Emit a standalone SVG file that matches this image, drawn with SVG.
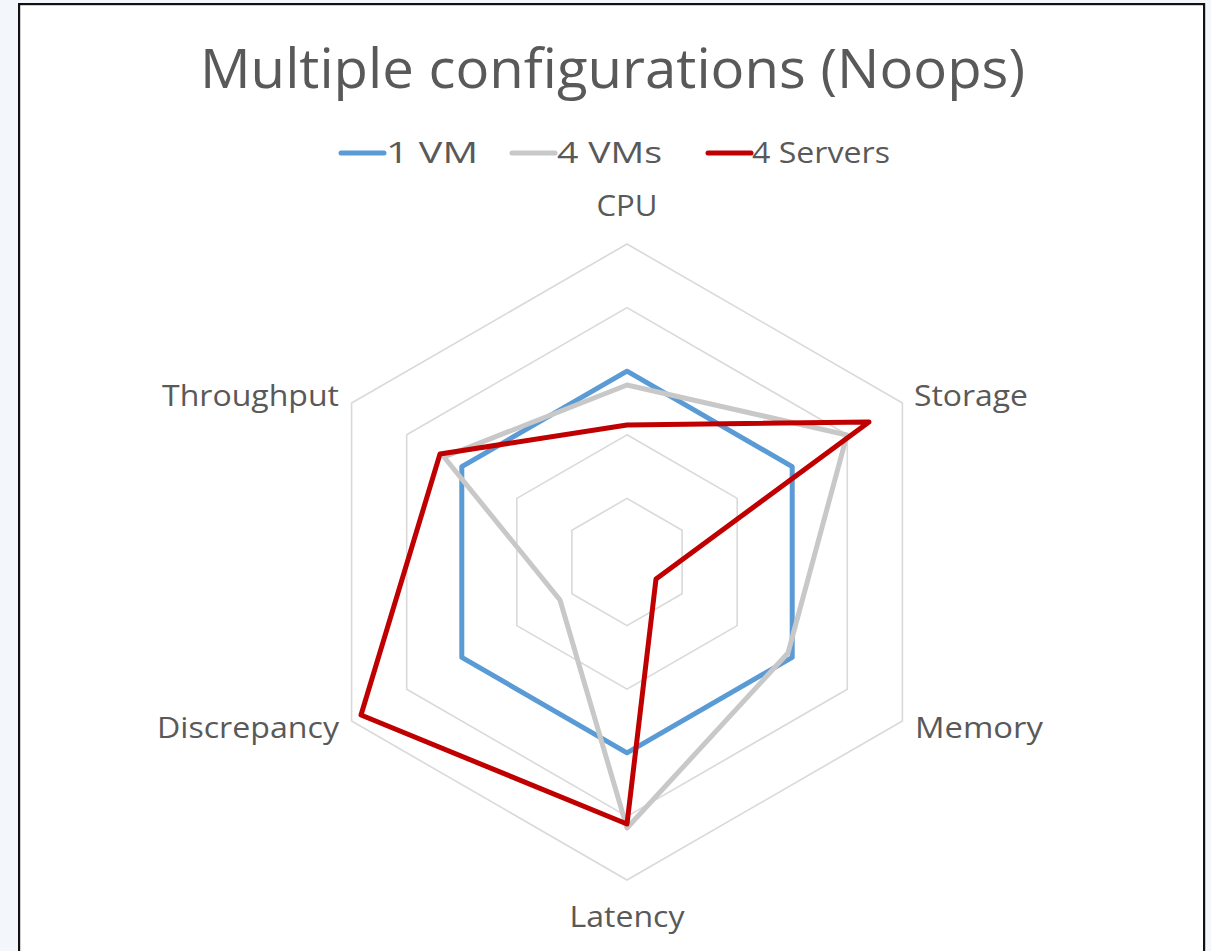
<svg xmlns="http://www.w3.org/2000/svg" width="1211" height="951" viewBox="0 0 1211 951">
<style>
.bg{fill:#f3f7fb}
.frame{fill:#ffffff;stroke:#111111;stroke-width:2.2}
.grid{fill:none;stroke:#d9d9d9;stroke-width:1.6}
.series{fill:none;stroke-width:5;stroke-linejoin:round;stroke-linecap:round}
.s1{stroke:#5b9bd5}
.s2{stroke:#c8c8c8}
.s3{stroke:#c00000}
.t{font-family:"Open Sans","Liberation Sans",sans-serif;fill:#595959}
.title{font-size:55px}
.lbl{font-size:29px}
</style>
<rect class="bg" x="0" y="0" width="1211" height="951"/>
<rect class="frame" x="19.1" y="4.1" width="1185" height="980"/>
<text class="t title" x="612.5" y="88" text-anchor="middle" textLength="825" lengthAdjust="spacingAndGlyphs">Multiple configurations (Noops)</text>
<g id="legend">
<line x1="341" y1="153" x2="384" y2="153" class="series s1"/>
<text class="t lbl" x="386" y="163" textLength="92" lengthAdjust="spacingAndGlyphs">1 VM</text>
<line x1="512" y1="153" x2="555" y2="153" class="series s2"/>
<text class="t lbl" x="557" y="163" textLength="105" lengthAdjust="spacingAndGlyphs">4 VMs</text>
<line x1="708" y1="153" x2="751" y2="153" class="series s3"/>
<text class="t lbl" x="752" y="163" textLength="138" lengthAdjust="spacingAndGlyphs">4 Servers</text>
</g>
<g id="grid">
<polygon class="grid" points="627,498.4 682.1,530.2 682.1,593.8 627,625.6 571.9,593.8 571.9,530.2"/>
<polygon class="grid" points="627,434.8 737.2,498.4 737.2,625.6 627,689.2 516.8,625.6 516.8,498.4"/>
<polygon class="grid" points="627,371.2 792.2,466.6 792.2,657.4 627,752.8 461.8,657.4 461.8,466.6"/>
<polygon class="grid" points="627,307.6 847.3,434.8 847.3,689.2 627,816.4 406.7,689.2 406.7,434.8"/>
<polygon class="grid" points="627,244 902.4,403 902.4,721 627,880 351.6,721 351.6,403"/>
</g>
<g id="axis-labels">
<text id="cpu" class="t lbl" x="627" y="216" text-anchor="middle" textLength="61" lengthAdjust="spacingAndGlyphs">CPU</text>
<text id="storage" class="t lbl" x="914" y="406" textLength="114" lengthAdjust="spacingAndGlyphs">Storage</text>
<text id="memory" class="t lbl" x="915" y="738" textLength="128" lengthAdjust="spacingAndGlyphs">Memory</text>
<text id="latency" class="t lbl" x="627" y="927" text-anchor="middle" textLength="115" lengthAdjust="spacingAndGlyphs">Latency</text>
<text id="discrepancy" class="t lbl" x="339" y="738" text-anchor="end" textLength="182" lengthAdjust="spacingAndGlyphs">Discrepancy</text>
<text id="throughput" class="t lbl" x="339" y="406" text-anchor="end" textLength="177" lengthAdjust="spacingAndGlyphs">Throughput</text>
</g>
<g id="series">
<polygon id="vm1" class="series s1" points="627,371.2 792.2,466.6 792.2,657.4 627,752.8 461.8,657.4 461.8,466.6"/>
<polygon id="vm4" class="series s2" points="627,385 847,435 788,653 627,828 560,600 444,457"/>
<polygon id="srv4" class="series s3" points="627,425 869,422 656,579 627,824 361,715 440,454"/>
</g>
</svg>
